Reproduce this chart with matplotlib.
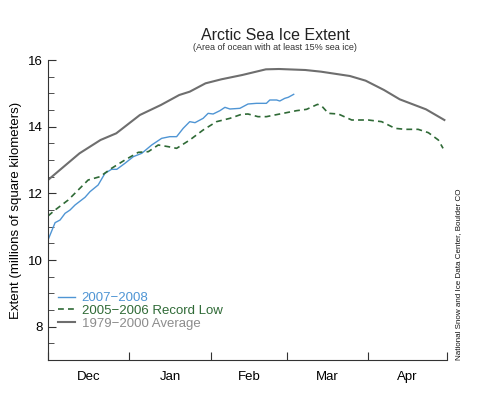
import matplotlib
matplotlib.use('Agg')
import matplotlib.pyplot as plt
from matplotlib.ticker import MultipleLocator

plt.rcParams['font.family'] = ['Liberation Sans', 'DejaVu Sans']

# day 0 = Dec 1, Feb has 29 days (2008)
month_edges = [0, 31, 62, 91, 122, 152]
month_names = ['Dec', 'Jan', 'Feb', 'Mar', 'Apr']

avg_days = [0, 6, 12, 20, 26, 35, 43, 50, 54, 60, 66, 74, 83, 88, 98, 104, 115, 121, 128, 134, 144, 151]
avg_ext = [12.4, 12.8, 13.2, 13.6, 13.8, 14.35, 14.65, 14.95, 15.05, 15.3, 15.42, 15.55, 15.72, 15.73,
           15.7, 15.65, 15.52, 15.38, 15.1, 14.82, 14.52, 14.2]

y0708_days = [0, 2.7, 4.6, 6.5, 8.4, 10.3, 14.1, 16, 19.1, 21.7, 24.2, 26.2, 29.3, 32.5, 35.7, 39.5,
              43.3, 46.4, 49, 51.5, 54, 56, 59.1, 61, 62.9, 65.5, 67.4, 69.3, 73.1, 76.2, 79.4, 83.2,
              84.5, 87.1, 88.3, 90.2, 91.5, 93.6]
y0708_ext = [10.6, 11.12, 11.2, 11.4, 11.5, 11.65, 11.88, 12.05, 12.25, 12.6, 12.72, 12.72, 12.9, 13.1,
             13.2, 13.45, 13.65, 13.7, 13.7, 13.95, 14.15, 14.12, 14.25, 14.4, 14.38, 14.48, 14.58, 14.53,
             14.55, 14.68, 14.7, 14.7, 14.8, 14.8, 14.77, 14.85, 14.88, 14.97]

y0506_days = [0, 2.7, 7.7, 11.5, 15.3, 19.8, 24.2, 29.3, 34.4, 38.2, 42, 45.8, 49, 54, 59.1, 64.2, 69.3,
              73.7, 76.2, 80, 83.2, 88.3, 94.7, 98.5, 102.7, 104.5, 106.8, 110.6, 115.7, 122, 127.1,
              132.2, 136, 141, 144.9, 148.7, 150.5]
y0506_ext = [11.32, 11.5, 11.8, 12.1, 12.4, 12.5, 12.75, 13.0, 13.23, 13.25, 13.45, 13.4, 13.35, 13.6,
             13.9, 14.15, 14.25, 14.37, 14.38, 14.3, 14.3, 14.38, 14.48, 14.52, 14.67, 14.6, 14.4, 14.38,
             14.2, 14.2, 14.15, 13.95, 13.92, 13.92, 13.82, 13.6, 13.35]

blue = '#4f95d4'
green = '#2f6a36'
gray = '#6e6e6e'

fig = plt.figure(figsize=(5, 4), dpi=100)
ax = fig.add_axes([0.096, 0.10, 0.798, 0.75])

ax.plot(y0708_days, y0708_ext, color=blue, lw=1.0, label='2007\u22122008')
ax.plot(y0506_days, y0506_ext, color=green, lw=1.2, dashes=(3.5, 2.5), label='2005\u22122006 Record Low')
ax.plot(avg_days, avg_ext, color=gray, lw=1.5, label='1979\u22122000 Average')

ax.set_xlim(0, 152)
ax.set_ylim(7, 16)

ax.spines['top'].set_visible(False)
ax.spines['right'].set_visible(False)
ax.spines['left'].set_color('#333333')
ax.spines['bottom'].set_color('#333333')

ax.yaxis.set_major_locator(MultipleLocator(2))
ax.yaxis.set_minor_locator(MultipleLocator(0.5))
ax.tick_params(axis='y', which='major', direction='in', length=6, labelsize=9.5, pad=4, color='#333333')
ax.tick_params(axis='y', which='minor', direction='in', length=4, color='#333333')

ax.set_xticks(month_edges)
ax.set_xticklabels([])
mids = [(month_edges[i] + month_edges[i + 1]) / 2 for i in range(len(month_names))]
ax.set_xticks(mids, minor=True)
ax.set_xticklabels(month_names, minor=True)
ax.tick_params(axis='x', which='major', direction='in', length=6, color='#333333')
ax.tick_params(axis='x', which='minor', length=0, labelsize=9.5, pad=8)

ax.set_ylabel('Extent (millions of square kilometers)', fontsize=9.5, labelpad=4)

leg = ax.legend(loc='lower left', bbox_to_anchor=(0.025, 0.1), frameon=False, fontsize=9.5,
                handlelength=1.3, handletextpad=0.5, labelspacing=0.05, borderpad=0, borderaxespad=0)
for txt, c in zip(leg.get_texts(), [blue, green, '#8c8c8c']):
    txt.set_color(c)

fig.text(0.55, 0.91, 'Arctic Sea Ice Extent', ha='center', va='center', fontsize=11.5, color='#222222')
fig.text(0.55, 0.882, '(Area of ocean with at least 15% sea ice)', ha='center', va='center',
         fontsize=6.5, color='#333333')
fig.text(0.918, 0.1, 'National Snow and Ice Data Center, Boulder CO', rotation=90, ha='center',
         va='bottom', fontsize=5.8, color='#111111')

fig.savefig('out.png', dpi=100)
